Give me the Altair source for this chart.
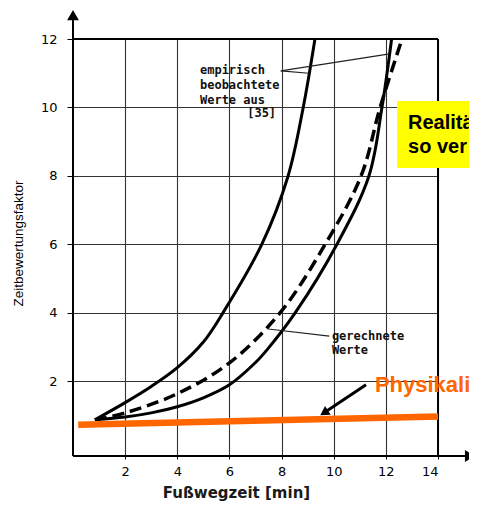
import altair as alt
import pandas as pd

# ---- data ----
emp_left_x = [0.84, 2, 3, 4, 5, 5.75, 7.24, 8.25, 8.83, 9.28]
emp_left_y = [0.88, 1.38, 1.85, 2.4, 3.15, 4.0, 6.0, 8.0, 10.0, 12.0]
emp_right_x = [0.84, 2, 3, 4, 5, 6, 7, 7.44, 8.52, 10.12, 11.35, 11.85, 12.22]
emp_right_y = [0.88, 0.96, 1.08, 1.26, 1.52, 1.9, 2.55, 2.92, 4.0, 6.0, 8.0, 10.0, 12.0]
calc_x = [0.84, 2, 4, 6, 7.94, 9.67, 11.05, 11.78, 12.62]
calc_y = [0.88, 1.08, 1.64, 2.54, 4.0, 6.0, 8.0, 10.0, 12.0]
phys_x = [0.2, 14.0]
phys_y = [0.73, 0.975]

x_ticks = [2, 4, 6, 8, 10, 12, 14]
y_ticks = [2, 4, 6, 8, 10, 12]
x_min, x_max = 0, 14
y_min, y_max = -0.18, 12
x_title = "Fußwegzeit [min]"
y_title = "Zeitbewertungsfaktor"

emp_labels = ["empirisch", "beobachtete", "Werte aus"]
emp_label_x = [4.87, 4.87, 4.87]
emp_label_y = [11.09, 10.65, 10.22]
ref_labels = ["[35]"]
ref_label_x = [7.79]
ref_label_y = [9.84]
calc_labels = ["gerechnete", "Werte"]
calc_label_x = [9.93, 9.93]
calc_label_y = [3.32, 2.92]
phys_labels = ["Physikali"]
phys_label_x = [11.58]
phys_label_y = [1.69]
box_labels = ["Realitä", "so ver"]
box_label_x = [12.85, 12.85]
box_label_y = [9.37, 8.67]
box_x = [12.43]
box_x2 = [16.5]
box_y = [8.23]
box_y2 = [10.19]

lead_x1 = [7.97, 7.97, 7.49]
lead_y1 = [11.07, 11.07, 3.53]
lead_x2 = [9.05, 12.08, 9.83]
lead_y2 = [11.0, 11.56, 3.32]

arrow_x1 = [11.24]
arrow_y1 = [1.90]
arrow_x2 = [9.63]
arrow_y2 = [1.08]

# axis lines / arrows / borders (data units)
axis_x1 = [0, 0, 0, 14]
axis_y1 = [y_min, y_min, 12, y_min]
axis_x2 = [0, 15.1, 14, 14]
axis_y2 = [12.6, y_min, 12, 12]
head_x = [0, 15.23]
head_y = [12.7, y_min]
head_shape = ["triangle-up", "triangle-right"]

XS = alt.Scale(domain=[x_min, x_max], nice=False, zero=False)
YS = alt.Scale(domain=[y_min, y_max], nice=False, zero=False)

AX = alt.Axis(
    values=x_ticks, grid=True, domain=False, ticks=True, tickSize=3,
    tickColor="black", tickWidth=1, labelPadding=6,
    labelFont="DejaVu Sans", labelFontSize=13, labelColor="black",
    gridColor="#333333", gridWidth=1.1, title=x_title,
    titleFont="DejaVu Sans", titleFontSize=15, titleFontWeight="bold",
    titleColor="#1a1a1a", titleX=163, titleY=41, titleAlign="center",
    titleBaseline="alphabetic")
AY = alt.Axis(
    values=y_ticks, grid=True, domain=False, ticks=True, tickSize=6,
    tickColor="black", tickWidth=1, labelPadding=10,
    labelFont="DejaVu Sans", labelFontSize=13, labelColor="black",
    gridColor="#333333", gridWidth=1.1, title=y_title,
    titleFont="Liberation Sans", titleFontSize=13.5, titleFontWeight="normal",
    titleColor="black", titleX=-55, titleY=204, titleAlign="center",
    titleBaseline="middle", titleAngle=-90)


def ex(f):
    return alt.X(f, type="quantitative", scale=XS, axis=AX)


def ey(f):
    return alt.Y(f, type="quantitative", scale=YS, axis=AY)


def ex2(f):
    return alt.X2(f)


def ey2(f):
    return alt.Y2(f)


curves = pd.DataFrame(
    {"x": emp_left_x + emp_right_x,
     "y": emp_left_y + emp_right_y,
     "s": ["a"] * len(emp_left_x) + ["b"] * len(emp_right_x)}
)

base = alt.Chart(curves).mark_line(
    color="black", strokeWidth=3, interpolate="catmull-rom"
).encode(x=ex("x"), y=ey("y"), detail="s:N")

calc = alt.Chart(pd.DataFrame({"x": calc_x, "y": calc_y})).mark_line(
    color="black", strokeWidth=3.5, strokeDash=[12, 6], interpolate="catmull-rom"
).encode(x=ex("x"), y=ey("y"))

axes_df = pd.DataFrame({"x": axis_x1, "y": axis_y1, "x2": axis_x2, "y2": axis_y2})
axis_lines = alt.Chart(axes_df).mark_rule(color="black", strokeWidth=2).encode(
    x=ex("x"), y=ey("y"), x2=ex2("x2"), y2=ey2("y2"))

heads = alt.Chart(pd.DataFrame({"x": head_x, "y": head_y, "sh": head_shape})).mark_point(
    filled=True, color="black", size=140, opacity=1
).encode(x=ex("x"), y=ey("y"), shape=alt.Shape("sh:N", scale=None))

phys = alt.Chart(pd.DataFrame({"x": phys_x, "y": phys_y})).mark_line(
    color="#FF6600", strokeWidth=6.5
).encode(x=ex("x"), y=ey("y"))

box = alt.Chart(pd.DataFrame({"x": box_x, "x2": box_x2, "y": box_y, "y2": box_y2})).mark_rect(
    color="#FFFF00"
).encode(x=ex("x"), x2=ex2("x2"), y=ey("y"), y2=ey2("y2"))

leads = alt.Chart(pd.DataFrame({"x": lead_x1, "y": lead_y1, "x2": lead_x2, "y2": lead_y2})).mark_rule(
    color="#222", strokeWidth=1.2
).encode(x=ex("x"), y=ey("y"), x2=ex2("x2"), y2=ey2("y2"))

arrow = alt.Chart(pd.DataFrame({"x": arrow_x1, "y": arrow_y1, "x2": arrow_x2, "y2": arrow_y2})).mark_rule(
    color="black", strokeWidth=3
).encode(x=ex("x"), y=ey("y"), x2=ex2("x2"), y2=ey2("y2"))

arrow_head = alt.Chart(pd.DataFrame({"x": arrow_x2, "y": arrow_y2})).mark_point(
    shape="triangle-up", filled=True, color="black", size=110, angle=237, opacity=1
).encode(x=ex("x"), y=ey("y"))


def text_layer(labels, xs, ys, **kw):
    return alt.Chart(pd.DataFrame({"x": xs, "y": ys, "t": labels})).mark_text(**kw).encode(
        x=ex("x"), y=ey("y"), text="t:N")


emp_text = text_layer(emp_labels, emp_label_x, emp_label_y, align="left", baseline="middle",
                      font="DejaVu Sans Mono", fontSize=12, fontWeight="bold", color="#111")
ref_text = text_layer(ref_labels, ref_label_x, ref_label_y, align="right", baseline="middle",
                      font="DejaVu Sans Mono", fontSize=12, fontWeight="bold", color="#111")
calc_text = text_layer(calc_labels, calc_label_x, calc_label_y, align="left", baseline="middle",
                       font="DejaVu Sans Mono", fontSize=12, fontWeight="bold", color="#111")
phys_text = text_layer(phys_labels, phys_label_x, phys_label_y, align="left", baseline="alphabetic",
                       font="Liberation Sans", fontSize=22, fontWeight="bold", color="#FF6600")
box_text = text_layer(box_labels, box_label_x, box_label_y, align="left", baseline="alphabetic",
                      font="Liberation Sans", fontSize=20, fontWeight="bold", color="black")

chart = alt.layer(
    base, calc, axis_lines, heads, phys, box, leads, arrow, arrow_head,
    emp_text, ref_text, calc_text, phys_text, box_text
).properties(
    width=365, height=417,
    autosize=alt.AutoSizeParams(type="none"),
    padding={"left": 65, "top": 31, "right": 31, "bottom": 46},
    background="white",
).configure_view(stroke=None)

chart.save("out.html", embed_options={"renderer": "svg", "actions": False})
